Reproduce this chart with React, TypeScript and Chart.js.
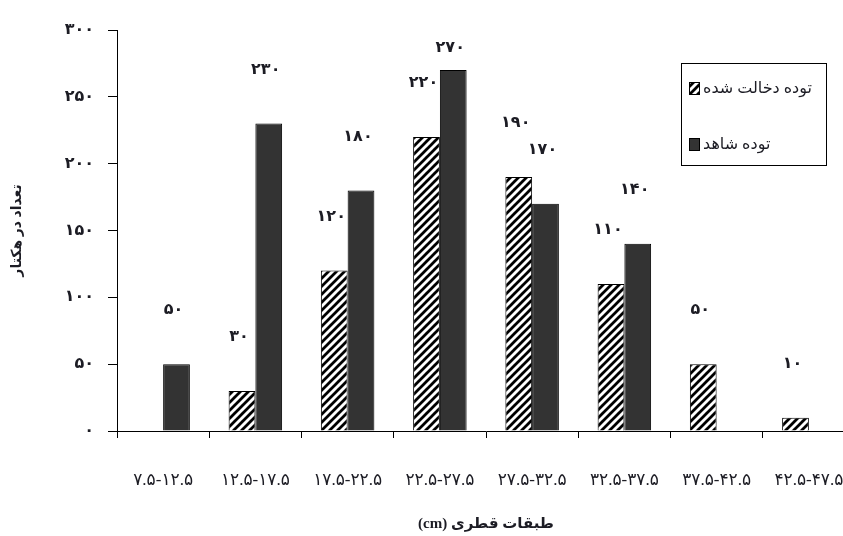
import React, { useEffect, useRef } from 'react';
import { Chart, registerables } from 'chart.js';

Chart.register(...registerables);

// Diameter classes (cm), written with Persian digits
const categories = [
  '۷.۵-۱۲.۵',
  '۱۲.۵-۱۷.۵',
  '۱۷.۵-۲۲.۵',
  '۲۲.۵-۲۷.۵',
  '۲۷.۵-۳۲.۵',
  '۳۲.۵-۳۷.۵',
  '۳۷.۵-۴۲.۵',
  '۴۲.۵-۴۷.۵',
];

// Trees per hectare in each diameter class
const treatedStand: (number | null)[] = [null, 30, 120, 220, 190, 110, 50, 10];
const controlStand: (number | null)[] = [50, 230, 180, 270, 170, 140, null, null];

const seriesNames = ['توده دخالت شده', 'توده شاهد'];
const yAxisTitle = 'تعداد در هکتار';
const xAxisTitle = '\u2067طبقات قطری (cm)\u2069';

const yMin = 0;
const yMax = 300;
const yStep = 50;

const FONT = "'Liberation Serif', 'DejaVu Sans', serif";
const INK = '#1c1c24';
const DARK_FILL = '#333333';

const persianDigits = '۰۱۲۳۴۵۶۷۸۹';
const toPersian = (v: number | string) =>
  String(v).replace(/[0-9]/g, (d) => persianDigits[Number(d)]);

function makeHatch(): CanvasPattern | string {
  const size = 8;
  const c = document.createElement('canvas');
  c.width = size;
  c.height = size;
  const g = c.getContext('2d');
  if (!g) return '#fff';
  g.fillStyle = '#ffffff';
  g.fillRect(0, 0, size, size);
  g.strokeStyle = '#000000';
  g.lineWidth = 2.8;
  g.lineCap = 'square';
  g.beginPath();
  g.moveTo(-2, size + 2);
  g.lineTo(size + 2, -2);
  g.moveTo(-2, 2);
  g.lineTo(2, -2);
  g.moveTo(size - 2, size + 2);
  g.lineTo(size + 2, size - 2);
  g.stroke();
  const p = g.createPattern(c, 'repeat');
  return p || '#fff';
}

// Value printed above every bar
const valueLabels = {
  id: 'valueLabels',
  afterDatasetsDraw(chart: any) {
    const { ctx, chartArea } = chart;
    ctx.save();
    ctx.font = `bold 16px ${FONT}`;
    ctx.fillStyle = INK;
    ctx.textAlign = 'center';
    ctx.textBaseline = 'middle';
    chart.data.datasets.forEach((ds: any, i: number) => {
      const meta = chart.getDatasetMeta(i);
      meta.data.forEach((el: any, j: number) => {
        const v = ds.data[j];
        if (v === null || v === undefined) return;
        const y = Math.max(el.y - 54, chartArea.top + 18);
        ctx.fillText(toPersian(v), el.x - 3, y);
      });
    });
    ctx.restore();
  },
};

// Framed legend box in the upper right
const boxedLegend = {
  id: 'boxedLegend',
  afterDraw(chart: any) {
    const { ctx } = chart;
    const bx = 681;
    const by = 63;
    const bw = 145;
    const bh = 102;
    ctx.save();
    ctx.fillStyle = '#ffffff';
    ctx.fillRect(bx, by, bw, bh);
    ctx.strokeStyle = '#000';
    ctx.lineWidth = 1;
    ctx.strokeRect(bx + 0.5, by + 0.5, bw, bh);
    const rows = [by + 25, by + 81];
    chart.data.datasets.forEach((ds: any, i: number) => {
      const cy = rows[i];
      ctx.fillStyle = ds.backgroundColor;
      ctx.fillRect(bx + 8, cy - 6, 10, 12);
      ctx.strokeStyle = '#000';
      ctx.lineWidth = 1;
      ctx.strokeRect(bx + 8.5, cy - 5.5, 10, 12);
      ctx.fillStyle = INK;
      ctx.font = `16px ${FONT}`;
      ctx.textAlign = 'left';
      ctx.textBaseline = 'middle';
      ctx.fillText(ds.label, bx + 22, cy + 1);
    });
    ctx.restore();
  },
};

export default function App() {
  const canvasRef = useRef<HTMLCanvasElement | null>(null);

  useEffect(() => {
    const canvas = canvasRef.current;
    if (!canvas) return;
    const hatch = makeHatch();

    const chart = new Chart(canvas, {
      type: 'bar',
      data: {
        labels: categories,
        datasets: [
          {
            label: seriesNames[0],
            data: treatedStand,
            backgroundColor: hatch as any,
            borderColor: '#000',
            borderWidth: 1,
            categoryPercentage: 0.58,
            barPercentage: 1.0,
          },
          {
            label: seriesNames[1],
            data: controlStand,
            backgroundColor: DARK_FILL,
            borderColor: '#000',
            borderWidth: 1,
            categoryPercentage: 0.58,
            barPercentage: 1.0,
          },
        ],
      },
      options: {
        responsive: false,
        animation: false,
        devicePixelRatio: 1,
        layout: { padding: { left: 0, right: 25, top: 30, bottom: 0 } },
        plugins: {
          legend: { display: false },
          tooltip: { enabled: false },
        },
        scales: {
          x: {
            offset: true,
            grid: {
              display: true,
              offset: true,
              drawOnChartArea: false,
              drawTicks: true,
              tickLength: 7,
              color: '#000',
            },
            border: { display: true, color: '#000', width: 1 },
            ticks: {
              color: INK,
              font: { family: FONT, size: 17 },
              padding: 32,
              maxRotation: 0,
              autoSkip: false,
            },
            title: {
              display: true,
              text: xAxisTitle,
              color: INK,
              font: { family: FONT, size: 15, weight: 'bold' },
              padding: { top: 0, bottom: 3 },
            },
            afterFit(scale: any) {
              scale.height = 105;
            },
          },
          y: {
            min: yMin,
            max: yMax,
            ticks: {
              stepSize: yStep,
              color: INK,
              font: { family: FONT, size: 16, weight: 'bold' },
              padding: 14,
              callback: (v: any) => toPersian(v),
            },
            grid: {
              display: true,
              drawOnChartArea: false,
              drawTicks: true,
              tickLength: 9,
              color: '#000',
            },
            border: { display: true, color: '#000', width: 1 },
            title: {
              display: true,
              text: yAxisTitle,
              color: INK,
              font: { family: FONT, size: 14, weight: 'bold' },
              padding: { top: 9, bottom: 0 },
            },
            afterFit(scale: any) {
              scale.width = 117;
            },
          },
        },
      },
      plugins: [valueLabels, boxedLegend],
    });

    return () => chart.destroy();
  }, []);

  return (
    <div
      style={{
        position: 'absolute',
        left: 0,
        top: 0,
        width: 843,
        height: 536,
        overflow: 'hidden',
        background: '#fff',
      }}
    >
      <canvas
        ref={canvasRef}
        width={880}
        height={536}
        style={{ display: 'block', width: 880, height: 536 }}
      />
    </div>
  );
}
